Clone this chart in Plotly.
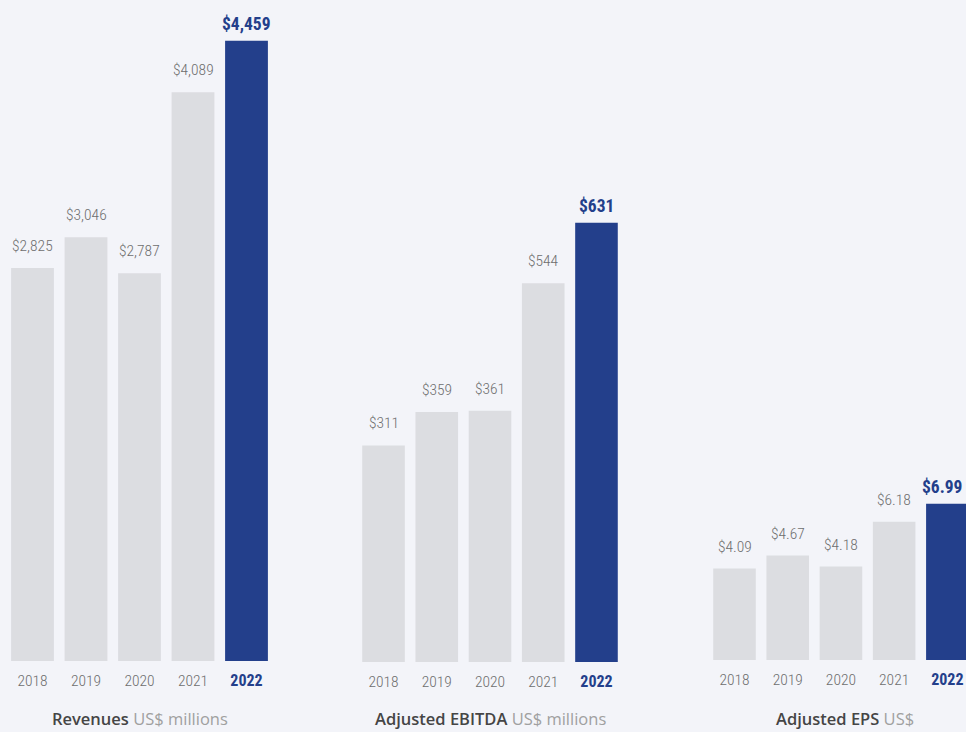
import plotly.graph_objects as go

years = ["2018", "2019", "2020", "2021", "2022"]
revenues = [2825, 3046, 2787, 4089, 4459]
ebitda = [311, 359, 361, 544, 631]
eps = [4.09, 4.67, 4.18, 6.18, 6.99]

rev_labels = ["$2,825", "$3,046", "$2,787", "$4,089", "$4,459"]
ebitda_labels = ["$311", "$359", "$361", "$544", "$631"]
eps_labels = ["$4.09", "$4.67", "$4.18", "$6.18", "$6.99"]

titles = [("Revenues", "US$ millions"), ("Adjusted EBITDA", "US$ millions"), ("Adjusted EPS", "US$")]

W, H = 966, 732
BG = "#f3f4f9"
GRAY = "#dcdde1"
NAVY = "#233f8b"
LABEL = "#6e6e6e"
COND = "Roboto Condensed, Liberation Sans Narrow, DejaVu Sans Condensed, sans-serif"
TITLEF = "Open Sans, Noto Sans, sans-serif"

panels = [
    dict(vals=revenues, labels=rev_labels, xdom=(5.75, 273.25), xr=(-0.5, 4.5), base=661, yr=(0, 4751.6), lastshift=0),
    dict(vals=ebitda, labels=ebitda_labels, xdom=(356.9, 623.1), xr=(-0.5, 4.5), base=662, yr=(0, 950.9), lastshift=0),
    dict(vals=eps, labels=eps_labels, xdom=(707.9, 966), xr=(-0.5, 4.35), base=660, yr=(0, 29.52), lastshift=-5),
]

fig = go.Figure()
annotations = []
for i, p in enumerate(panels):
    sfx = "" if i == 0 else str(i + 1)
    colors = [GRAY] * (len(years) - 1) + [NAVY]
    fig.add_trace(go.Bar(
        x=list(range(len(years))), y=p["vals"], marker=dict(color=colors, line=dict(width=0)),
        width=0.8, xaxis="x" + sfx, yaxis="y" + sfx, hoverinfo="skip", showlegend=False,
    ))
    ticktext = [y for y in years[:-1]] + [
        "<span style='color:%s;font-weight:700;font-size:16px'>%s</span>" % (NAVY, years[-1])]
    fig.update_layout(**{
        "xaxis" + sfx: dict(domain=[p["xdom"][0] / W, p["xdom"][1] / W], range=list(p["xr"]),
                            tickmode="array", tickvals=list(range(len(years))), ticktext=ticktext,
                            showgrid=False, zeroline=False, showline=False, ticks="",
                            tickfont=dict(family=COND, size=15.5, color=LABEL, weight=300),
                            ticklabelstandoff=8, fixedrange=True,
                            anchor="y" + sfx),
        "yaxis" + sfx: dict(domain=[(H - p["base"]) / H, 1], range=list(p["yr"]), visible=False,
                            anchor="x" + sfx),
    })
    for j, (v, lab) in enumerate(zip(p["vals"], p["labels"])):
        last = j == len(years) - 1
        annotations.append(dict(
            x=j, y=v, xref="x" + sfx, yref="y" + sfx, text=lab,
            showarrow=False, yanchor="bottom", yshift=5 if last else 11,
            xshift=p["lastshift"] if last else 0,
            font=dict(family=COND, size=17.5 if last else 15.5, color=NAVY if last else LABEL,
                      weight=700 if last else 300),
        ))
    cx = (p["xdom"][0] + p["xdom"][1]) / 2 / W
    if i == 2:
        cx = 845 / W
    t, u = titles[i]
    annotations.append(dict(
        x=cx, y=0, xref="paper", yref="paper", xanchor="center", yanchor="bottom",
        text="%s <span style='color:#a0a0a0;font-weight:400'>%s</span>" % (t, u),
        showarrow=False, font=dict(family=TITLEF, size=16.5, color="#454545", weight=600),
    ))

fig.update_layout(
    width=W, height=H, margin=dict(l=0, r=0, t=0, b=0),
    paper_bgcolor=BG, plot_bgcolor=BG, bargap=0.2,
    annotations=annotations,
)
fig.write_html("out.html")
